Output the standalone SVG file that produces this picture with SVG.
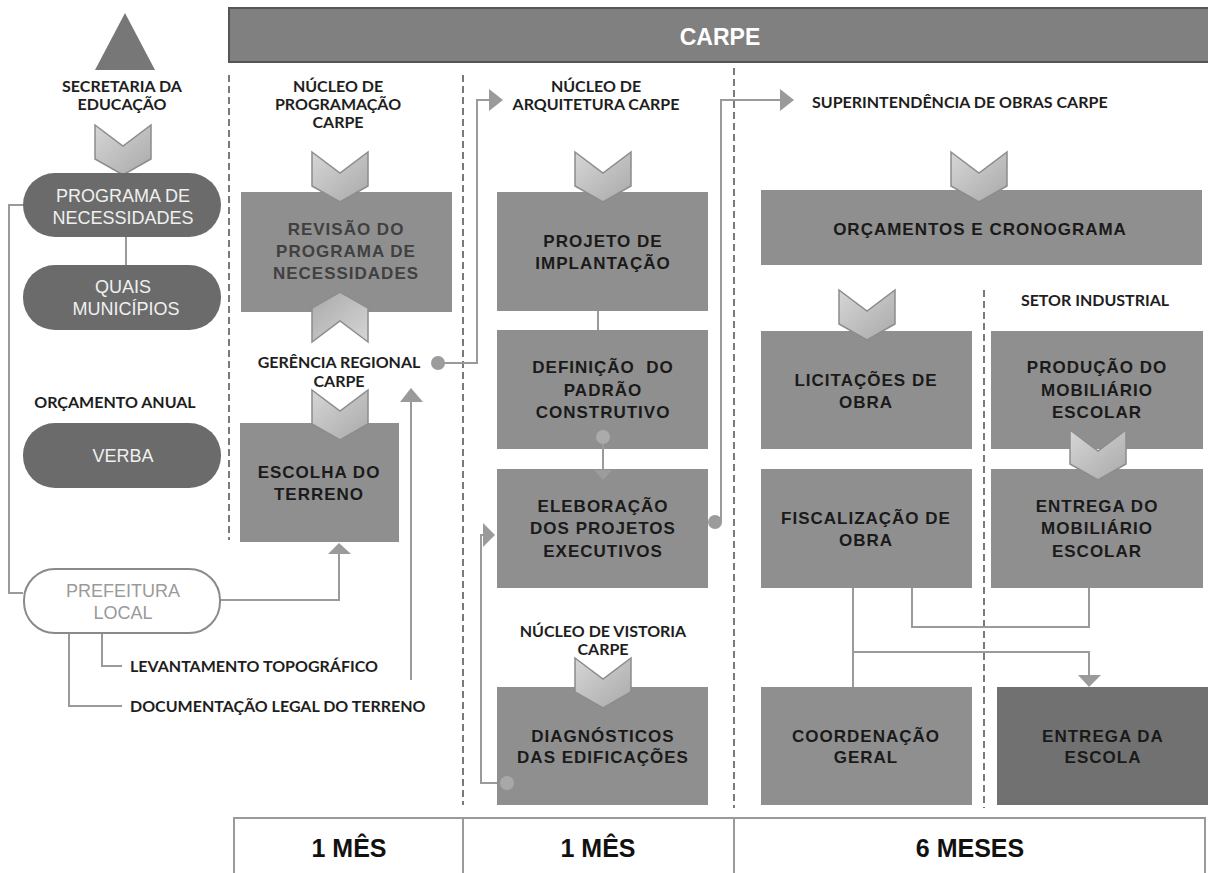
<svg xmlns="http://www.w3.org/2000/svg" width="1208" height="873" viewBox="0 0 1208 873">
<defs>
<linearGradient id="chg" x1="0" y1="0" x2="1" y2="1">
<stop offset="0" stop-color="#d6d6d6"/>
<stop offset="1" stop-color="#a9a9a9"/>
</linearGradient>
<polygon id="chev" points="0,0 28,21 56,0 56,34 28,50 0,34" fill="url(#chg)" stroke="#8c8c8c" stroke-width="1.5"/>
</defs>
<style>
.lbl{font-family:Lato,"Liberation Sans",sans-serif;font-weight:700;font-size:16px;fill:#1e1e1e;text-anchor:middle}
.lbls{font-family:Lato,"Liberation Sans",sans-serif;font-weight:700;font-size:16px;fill:#1e1e1e}
.box{fill:#8f8f8f}
.bt{font-family:"Liberation Sans",Arial,sans-serif;font-weight:700;font-size:17px;fill:#1a1a1a;text-anchor:middle;letter-spacing:1px}
.pill{fill:#6b6b6b}
.pt{font-family:"Liberation Sans",Arial,sans-serif;font-size:18px;fill:#f0f0f0;text-anchor:middle}
.con{fill:none;stroke:#9a9a9a;stroke-width:2}
.dash{fill:none;stroke:#7a7a7a;stroke-width:2;stroke-dasharray:7 4}
.dot{fill:#9c9c9c}
.tb{fill:#fff;stroke:#9a9a9a;stroke-width:2}
.tt{font-family:"Liberation Sans",Arial,sans-serif;font-weight:700;font-size:25px;fill:#111;text-anchor:middle}
</style>
<rect width="1208" height="873" fill="#fff"/>

<!-- banner -->
<g id="carpe">
<rect x="229" y="8" width="985" height="54" fill="#808080" stroke="#555" stroke-width="2"/>
<text x="720" y="45" font-family="Liberation Sans,Arial,sans-serif" font-weight="700" font-size="23" fill="#fff" text-anchor="middle">CARPE</text>
</g>

<!-- dividers -->
<g id="dividers">
<line class="dash" x1="229" y1="75" x2="229" y2="540"/>
<line class="dash" x1="463" y1="75" x2="463" y2="805"/>
<line class="dash" x1="734" y1="68" x2="734" y2="808"/>
<line class="dash" x1="984" y1="290" x2="984" y2="808"/>
</g>

<!-- connectors -->
<g id="connectors">
<line class="con" x1="126" y1="237" x2="126" y2="265"/>
<polyline class="con" points="23,205 9,205 9,593 23,593"/>
<polyline class="con" points="220,600 339,600 339,553"/>
<polygon points="328,554 339,543 351,554" fill="#9a9a9a"/>
<line class="con" x1="411" y1="680" x2="411" y2="401"/>
<polygon points="400,402 411,388 423,402" fill="#9a9a9a"/>
<polyline class="con" points="102,633 102,666 122,666"/>
<polyline class="con" points="69,633 69,706 122,706"/>
<polyline class="con" points="438,363 477,363 477,100 490,100"/>
<polygon points="489,89 503,100 489,111" fill="#9a9a9a"/>
<line class="con" x1="598" y1="311" x2="598" y2="330"/>
<polyline class="con" points="715,522 721,522 721,100 781,100"/>
<polygon points="780,89 794,100 780,111" fill="#9a9a9a"/>
<polyline class="con" points="507,783 481,783 481,535 484,535"/>
<polygon points="483,523 495,535 483,547" fill="#9a9a9a"/>
<line class="con" x1="853" y1="588" x2="853" y2="687"/>
<polyline class="con" points="853,652 1089,652 1089,675"/>
<polygon points="1078,675 1101,675 1089,687" fill="#9a9a9a"/>
<polyline class="con" points="912,588 912,627 1089,627 1089,588"/>
<circle class="dot" cx="438" cy="363" r="7"/>
<circle class="dot" cx="715" cy="522" r="7"/>
</g>

<!-- left column -->
<g id="secretaria">
<polygon points="125,13 95,70 155,70" fill="#777"/>
<text class="lbl" x="122" y="92">SECRETARIA DA</text>
<text class="lbl" x="122" y="110">EDUCAÇÃO</text>
</g>
<use href="#chev" x="95" y="125"/>
<g id="programa">
<rect class="pill" x="23" y="173" width="198" height="64" rx="32"/>
<text class="pt" x="123" y="202">PROGRAMA DE</text>
<text class="pt" x="123" y="224">NECESSIDADES</text>
</g>
<g id="quais">
<rect class="pill" x="23" y="265" width="198" height="65" rx="32"/>
<text class="pt" x="123" y="293">QUAIS</text>
<text class="pt" x="126" y="315">MUNICÍPIOS</text>
</g>
<g id="orcamento-anual">
<text class="lbl" x="115" y="408">ORÇAMENTO ANUAL</text>
</g>
<g id="verba">
<rect class="pill" x="23" y="423" width="198" height="65" rx="32"/>
<text class="pt" x="123" y="462">VERBA</text>
</g>
<g id="prefeitura">
<rect x="24" y="569" width="196" height="64" rx="31" fill="#fff" stroke="#8a8a8a" stroke-width="2"/>
<text class="pt" x="123" y="597" style="fill:#9a9a9a">PREFEITURA</text>
<text class="pt" x="123" y="619" style="fill:#9a9a9a">LOCAL</text>
</g>
<g id="levantamento"><text class="lbls" x="130" y="672">LEVANTAMENTO TOPOGRÁFICO</text></g>
<g id="documentacao"><text class="lbls" x="130" y="712">DOCUMENTAÇÃO LEGAL DO TERRENO</text></g>

<!-- column 1 -->
<g id="nucleo-programacao">
<text class="lbl" x="338" y="92">NÚCLEO DE</text>
<text class="lbl" x="338" y="110">PROGRAMAÇÃO</text>
<text class="lbl" x="338" y="128">CARPE</text>
</g>
<g id="revisao">
<rect class="box" x="241" y="192" width="211" height="120"/>
<text class="bt" x="346" y="235" style="fill:#404040">REVISÃO DO</text>
<text class="bt" x="346" y="257" style="fill:#404040">PROGRAMA DE</text>
<text class="bt" x="346" y="279" style="fill:#404040">NECESSIDADES</text>
</g>
<use href="#chev" x="312" y="152"/>
<use href="#chev" transform="translate(368,342) rotate(180)"/>
<g id="gerencia">
<text class="lbl" x="339" y="368">GERÊNCIA REGIONAL</text>
<text class="lbl" x="339" y="387">CARPE</text>
</g>
<g id="escolha">
<rect class="box" x="240" y="423" width="159" height="119"/>
<text class="bt" x="319" y="478">ESCOLHA DO</text>
<text class="bt" x="319" y="500">TERRENO</text>
</g>
<use href="#chev" x="312" y="390"/>

<!-- column 2 -->
<g id="nucleo-arquitetura">
<text class="lbl" x="596" y="92">NÚCLEO DE</text>
<text class="lbl" x="596" y="110">ARQUITETURA CARPE</text>
</g>
<g id="projeto">
<rect class="box" x="497" y="192" width="211" height="119"/>
<text class="bt" x="603" y="247">PROJETO DE</text>
<text class="bt" x="603" y="269">IMPLANTAÇÃO</text>
</g>
<use href="#chev" x="575" y="152"/>
<g id="definicao">
<rect class="box" x="497" y="330" width="211" height="119"/>
<text class="bt" x="603" y="373" xml:space="preserve">DEFINIÇÃO  DO</text>
<text class="bt" x="603" y="396">PADRÃO</text>
<text class="bt" x="603" y="418">CONSTRUTIVO</text>
</g>
<g id="eleboracao">
<rect class="box" x="497" y="469" width="211" height="119"/>
<text class="bt" x="603" y="512">ELEBORAÇÃO</text>
<text class="bt" x="603" y="534">DOS PROJETOS</text>
<text class="bt" x="603" y="557">EXECUTIVOS</text>
</g>
<g id="def-to-elab">
<line class="con" x1="603" y1="437" x2="603" y2="470"/>
<polygon points="594,470 603,480 612,470" fill="#a5a5a5" opacity="0.6"/>
<circle cx="603" cy="437" r="7" fill="#ababab"/>
</g>
<g id="nucleo-vistoria">
<text class="lbl" x="603" y="637">NÚCLEO DE VISTORIA</text>
<text class="lbl" x="603" y="655">CARPE</text>
</g>
<g id="diagnosticos">
<rect class="box" x="497" y="687" width="211" height="118"/>
<text class="bt" x="603" y="742">DIAGNÓSTICOS</text>
<text class="bt" x="603" y="763">DAS EDIFICAÇÕES</text>
</g>
<use href="#chev" x="575" y="658"/>
<circle cx="507" cy="783" r="7" fill="#a8a8a8"/>

<!-- column 3 -->
<g id="superintendencia"><text class="lbls" x="812" y="108">SUPERINTENDÊNCIA DE OBRAS CARPE</text></g>
<g id="orcamentos">
<rect class="box" x="761" y="190" width="441" height="75"/>
<text class="bt" x="980" y="235">ORÇAMENTOS E CRONOGRAMA</text>
</g>
<use href="#chev" x="951" y="152"/>
<g id="setor-industrial"><text class="lbl" x="1095" y="306">SETOR INDUSTRIAL</text></g>
<g id="licitacoes">
<rect class="box" x="761" y="331" width="211" height="118"/>
<text class="bt" x="866" y="386">LICITAÇÕES DE</text>
<text class="bt" x="866" y="408">OBRA</text>
</g>
<use href="#chev" x="839" y="290"/>
<g id="producao">
<rect class="box" x="991" y="331" width="212" height="118"/>
<text class="bt" x="1097" y="373">PRODUÇÃO DO</text>
<text class="bt" x="1097" y="396">MOBILIÁRIO</text>
<text class="bt" x="1097" y="418">ESCOLAR</text>
</g>
<g id="fiscalizacao">
<rect class="box" x="761" y="469" width="211" height="119"/>
<text class="bt" x="866" y="524">FISCALIZAÇÃO DE</text>
<text class="bt" x="866" y="546">OBRA</text>
</g>
<g id="entrega-mobiliario">
<rect class="box" x="991" y="469" width="212" height="119"/>
<text class="bt" x="1097" y="512">ENTREGA DO</text>
<text class="bt" x="1097" y="534">MOBILIÁRIO</text>
<text class="bt" x="1097" y="557">ESCOLAR</text>
</g>
<use href="#chev" x="1070" y="430"/>
<g id="coordenacao">
<rect class="box" x="761" y="687" width="211" height="118"/>
<text class="bt" x="866" y="742">COORDENAÇÃO</text>
<text class="bt" x="866" y="763">GERAL</text>
</g>
<g id="entrega-escola">
<rect x="997" y="687" width="211" height="118" fill="#717171"/>
<text class="bt" x="1103" y="742">ENTREGA DA</text>
<text class="bt" x="1103" y="763">ESCOLA</text>
</g>

<!-- timeline -->
<g id="t1"><rect class="tb" x="234" y="818" width="229" height="56"/><text class="tt" x="349" y="857">1 MÊS</text></g>
<g id="t2"><rect class="tb" x="463" y="818" width="271" height="56"/><text class="tt" x="598" y="857">1 MÊS</text></g>
<g id="t3"><rect class="tb" x="734" y="818" width="471" height="56"/><text class="tt" x="970" y="857">6 MESES</text></g>
</svg>
